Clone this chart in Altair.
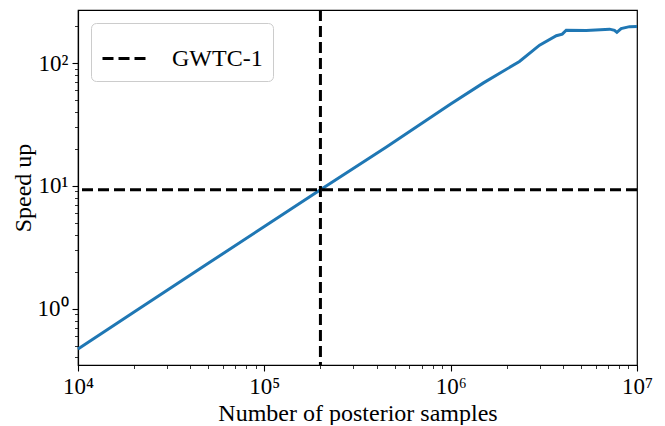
import altair as alt
import pandas as pd

# ---- data ----
x_samples = [1e4, 2e4, 5e4, 1e5, 2e5, 4.5e5, 1e6, 1.5e6, 2.34e6,
             3.0e6, 3.69e6, 3.97e6, 4.17e6, 5.34e6, 7.13e6, 7.57e6, 7.8e6,
             8.22e6, 9.12e6, 1e7]
speed_up = [0.47, 0.94, 2.34, 4.67, 9.3, 20.6, 46.5, 69, 103,
            140, 167, 172, 185, 184.5, 189, 185, 178,
            191, 198, 199]

gwtc1_samples = [2e5]
gwtc1_speedup = [9.3]
legend_label = ["GWTC-1"]

x_ticks = [1e4, 2e4, 3e4, 4e4, 5e4, 6e4, 7e4, 8e4, 9e4,
           1e5, 2e5, 3e5, 4e5, 5e5, 6e5, 7e5, 8e5, 9e5,
           1e6, 2e6, 3e6, 4e6, 5e6, 6e6, 7e6, 8e6, 9e6, 1e7]
y_ticks = [0.4, 0.5, 0.6, 0.7, 0.8, 0.9,
           1, 2, 3, 4, 5, 6, 7, 8, 9,
           10, 20, 30, 40, 50, 60, 70, 80, 90, 100, 200]

x_domain = [1e4, 1e7]
y_domain = [0.3475, 270.6]

FONT = "Liberation Serif"

df = pd.DataFrame({"n": x_samples, "s": speed_up})
vdf = pd.DataFrame({"n": gwtc1_samples, "label": legend_label})
hdf = pd.DataFrame({"s": gwtc1_speedup, "label": legend_label})

major_test = "abs(log(datum.value)/LN10 - round(log(datum.value)/LN10)) < 1e-6"
sup = "['⁰','¹','²','³','⁴','⁵','⁶','⁷','⁸','⁹']"
label_expr = f"({major_test}) ? '10' + {sup}[round(log(datum.value)/LN10)] : ''"


def make_axis(title, values, **kw):
    return alt.Axis(
        title=title,
        values=values,
        labelExpr=label_expr,
        grid=False,
        labelOverlap=False,
        labelFlush=False,
        tickSize={"condition": {"test": major_test, "value": 6}, "value": 3.5},
        tickWidth={"condition": {"test": major_test, "value": 1.1}, "value": 0.8},
        tickColor="black",
        domainColor="black",
        domainWidth=1.2,
        labelFont=FONT,
        labelFontSize=23,
        labelColor="black",
        labelPadding=4,
        titleFont=FONT,
        titleFontSize=24,
        titleFontWeight="normal",
        titleColor="black",
        titleBaseline="alphabetic",
        **kw,
    )


xscale = alt.Scale(type="log", domain=x_domain, nice=False)
yscale = alt.Scale(type="log", domain=y_domain, nice=False)

line = alt.Chart(df).mark_line(color="#1f77b4", strokeWidth=3).encode(
    x=alt.X("n:Q", scale=xscale,
            axis=make_axis("Number of posterior samples", x_ticks, titleY=55)),
    y=alt.Y("s:Q", scale=yscale,
            axis=make_axis("Speed up", y_ticks, titleX=-48, titleY=177.5, titleAngle=270)),
)

dash_scale = alt.Scale(domain=legend_label, range=[[11, 5]])
legend = alt.Legend(
    title=None,
    orient="none",
    legendX=13,
    legendY=13,
    padding=10,
    fillColor="white",
    strokeColor="#cccccc",
    cornerRadius=5,
    symbolType="stroke",
    symbolSize=2304,
    symbolStrokeWidth=3,
    symbolStrokeColor="black",
    labelFont=FONT,
    labelFontSize=24,
    labelColor="black",
    labelOffset=20,
)

vline = alt.Chart(vdf).mark_rule(color="black", strokeWidth=3).encode(
    x=alt.X("n:Q", scale=xscale),
    strokeDash=alt.StrokeDash("label:N", scale=dash_scale, legend=legend),
)
hline = alt.Chart(hdf).mark_rule(color="black", strokeWidth=3).encode(
    y=alt.Y("s:Q", scale=yscale),
    strokeDash=alt.StrokeDash("label:N", scale=dash_scale, legend=legend),
)

chart = (
    alt.layer(line, vline, hline)
    .properties(
        width=559,
        height=355,
        autosize=alt.AutoSizeParams(type="none"),
        padding={"left": 70, "top": 2, "right": 20, "bottom": 60},
        background="white",
    )
    .configure_view(stroke="black", strokeWidth=1.2)
)

chart.save("out.html", embed_options={"renderer": "svg", "actions": False})
